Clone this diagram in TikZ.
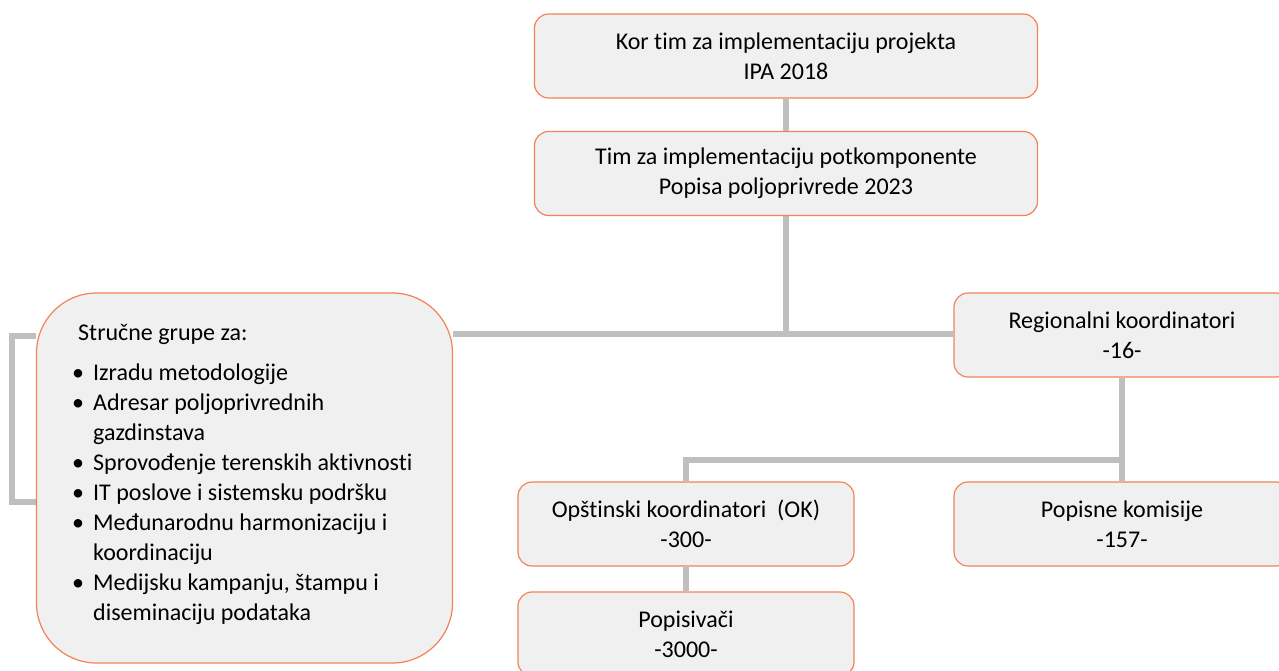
\documentclass[tikz,border=0pt]{standalone}
\usepackage{fontspec}
\setmainfont{Carlito}[Ligatures=NoCommon]
\usetikzlibrary{positioning,calc,backgrounds}
\definecolor{edge}{RGB}{241,131,86}
\definecolor{boxfill}{RGB}{240,240,240}
\definecolor{link}{RGB}{191,191,191}
\tikzset{
  box/.style={draw=edge,fill=boxfill,line width=1.2pt,rounded corners=14pt,align=center,minimum width=503pt,minimum height=84pt,inner sep=0pt,font=\fontsize{24}{30}\selectfont},
  sbox/.style={box,minimum width=336pt},
  lnk/.style={draw=link,line width=6pt}
}
\newcommand{\bul}{\makebox[21pt][l]{\textbullet}}
\newcommand{\ind}{\hspace*{21pt}}

\begin{document}
\begin{tikzpicture}[x=1pt,y=-1pt]
\clip (0,0) rectangle (1279,670);
\useasboundingbox (0,0) rectangle (1279,670);
\node[box] (kor) at (786,56) {Kor tim za implementaciju projekta\\IPA 2018};
\node[box] (tim) at (786,173.5) {Tim za implementaciju potkomponente\\Popisa poljoprivrede 2023};
\node[sbox] (reg) at (1122,335) {Regionalni koordinatori\\-16-};
\node[sbox] (pok) at (1122,524) {Popisne komisije\\-157-};
\node[sbox] (opk) at (686,524) {Opštinski koordinatori~ (OK)\\-300-};
\node[sbox] (pop) at (686,634) {Popisivači\\-3000-};
\node[box,minimum width=416pt,minimum height=370pt,rounded corners=60pt] (grp) at (244.5,478) {};
\node[anchor=north west,inner sep=0pt,align=left,font=\fontsize{24}{30}\selectfont] (grpt) at (72,324) {\hspace*{6pt}Stručne grupe za:\\[10pt]
\bul Izradu metodologije\\
\bul Adresar poljoprivrednih\\
\ind gazdinstava\\
\bul Sprovođenje terenskih aktivnosti\\
\bul IT poslove i sistemsku podršku\\
\bul Međunarodnu harmonizaciju i\\
\ind koordinaciju\\
\bul Medijsku kampanju, štampu i\\
\ind diseminaciju podataka};
\coordinate (j1) at (786,334);
\coordinate (j2) at (1122,460);
\coordinate (b1) at (12,336);
\coordinate (b2) at (12,502);
\begin{scope}[on background layer]
\draw[lnk] (kor) -- (tim);
\draw[lnk] (tim) -- (j1);
\draw[lnk] (j1 -| grp.east) -- (j1 -| reg.west);
\draw[lnk] (grp.west |- b1) -- (b1) -- (b2) -- (grp.west |- b2);
\draw[lnk] (reg) -- (pok);
\draw[lnk] (j2) -| (opk.north);
\draw[lnk] (opk) -- (pop);
\end{scope}
\end{tikzpicture}
\end{document}
